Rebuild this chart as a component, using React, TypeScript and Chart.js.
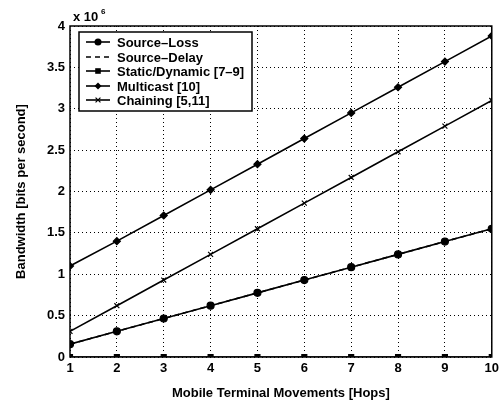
import React, { useEffect, useRef } from "react";
import { Chart, registerables } from "chart.js";

Chart.register(...registerables);

const hops = [1, 2, 3, 4, 5, 6, 7, 8, 9, 10];
const sourceLoss = [0.155, 0.31, 0.465, 0.62, 0.775, 0.93, 1.085, 1.24, 1.395, 1.55];
const sourceDelay = [0.155, 0.31, 0.465, 0.62, 0.775, 0.93, 1.085, 1.24, 1.395, 1.55];
const staticDynamic = [0, 0, 0, 0, 0, 0, 0, 0, 0, 0];
const multicast = [1.1, 1.4, 1.71, 2.02, 2.33, 2.64, 2.95, 3.26, 3.57, 3.88];
const chaining = [0.31, 0.62, 0.93, 1.24, 1.55, 1.86, 2.17, 2.48, 2.79, 3.1];
const yTicks = [0, 0.5, 1, 1.5, 2, 2.5, 3, 3.5, 4];
const yTickLabels = ["0", "0.5", "1", "1.5", "2", "2.5", "3", "3.5", "4"];
const legendLabels = ["Source\u2013Loss", "Source\u2013Delay", "Static/Dynamic [7\u20139]", "Multicast [10]", "Chaining [5,11]"];

const FONT = "'Liberation Sans', Arial, sans-serif";

export default function App() {
  const ref = useRef<HTMLCanvasElement | null>(null);
  useEffect(() => {
    document.body.style.margin = "0";
    const canvas = ref.current!;
    const mk = (label: string, data: number[], style: any, dash: number[] = []) => ({
      label,
      data: hops.map((h, i) => ({ x: h, y: data[i] })),
      borderColor: "#000",
      backgroundColor: "#000",
      borderWidth: 1.6,
      borderDash: dash,
      pointStyle: style,
      pointRadius: style ? 3.5 : 0,
      pointBorderWidth: 1.2,
      pointBorderColor: "#000",
      pointBackgroundColor: "#000",
    });
    const datasets = [
      mk(legendLabels[0], sourceLoss, "circle"),
      mk(legendLabels[1], sourceDelay, false, [5, 4]),
      mk(legendLabels[2], staticDynamic, "rect"),
      mk(legendLabels[3], multicast, "rectRot"),
      mk(legendLabels[4], chaining, "crossRot"),
    ];
    function drawPoint(ctx: CanvasRenderingContext2D, style: string, x: number, y: number) {
      const r = 3.5;
      ctx.beginPath();
      if (style === "circle") {
        ctx.arc(x, y, r, 0, Math.PI * 2);
        ctx.fill();
      } else if (style === "rect") {
        ctx.rect(x - r * 0.8, y - r * 0.8, r * 1.6, r * 1.6);
        ctx.fill();
      } else if (style === "rectRot") {
        ctx.moveTo(x, y - r);
        ctx.lineTo(x + r, y);
        ctx.lineTo(x, y + r);
        ctx.lineTo(x - r, y);
        ctx.closePath();
        ctx.fill();
      } else if (style === "crossRot") {
        ctx.moveTo(x - r * 0.7, y - r * 0.7);
        ctx.lineTo(x + r * 0.7, y + r * 0.7);
        ctx.moveTo(x + r * 0.7, y - r * 0.7);
        ctx.lineTo(x - r * 0.7, y + r * 0.7);
        ctx.stroke();
      }
    }
    const boxPlugin = {
      id: "boxPlugin",
      afterDraw(chart: any) {
        const ctx = chart.ctx;
        const a = chart.chartArea;
        ctx.save();
        ctx.strokeStyle = "#000";
        ctx.lineWidth = 1.5;
        ctx.setLineDash([]);
        ctx.strokeRect(a.left, a.top, a.right - a.left, a.bottom - a.top);
        // exponent label
        ctx.fillStyle = "#000";
        ctx.font = `bold 13px ${FONT}`;
        ctx.textBaseline = "alphabetic";
        ctx.textAlign = "left";
        ctx.fillText("x 10", 73, 21);
        ctx.font = `bold 8px ${FONT}`;
        ctx.fillText("6", 101, 14);
        // legend
        const lx = 79, ly = 32, lw = 173, lh = 79;
        ctx.fillStyle = "#fff";
        ctx.fillRect(lx, ly, lw, lh);
        ctx.strokeStyle = "#000";
        ctx.lineWidth = 1.5;
        ctx.strokeRect(lx, ly, lw, lh);
        const rows = [42, 57, 71, 86, 100];
        chart.data.datasets.forEach((ds: any, i: number) => {
          const y = rows[i];
          ctx.strokeStyle = "#000";
          ctx.lineWidth = 1.6;
          ctx.setLineDash(ds.borderDash || []);
          ctx.beginPath();
          ctx.moveTo(86, y);
          ctx.lineTo(110, y);
          ctx.stroke();
          ctx.setLineDash([]);
          if (ds.pointStyle) {
            ctx.fillStyle = "#000";
            ctx.lineWidth = 1.2;
            drawPoint(ctx, ds.pointStyle, 98, y);
          }
          ctx.fillStyle = "#000";
          ctx.font = `bold 13px ${FONT}`;
          ctx.textBaseline = "middle";
          ctx.fillText(ds.label, 117, y + 1);
        });
        ctx.restore();
      },
    };
    const chart = new Chart(canvas, {
      type: "line",
      data: { datasets: datasets as any },
      plugins: [boxPlugin],
      options: {
        responsive: false,
        animation: false,
        layout: { padding: { left: 0, right: 8, top: 26, bottom: 0 } },
        plugins: { legend: { display: false }, tooltip: { enabled: false } },
        scales: {
          x: {
            type: "linear",
            min: 1,
            max: 10,
            afterBuildTicks: (s: any) => {
              s.ticks = hops.map((v) => ({ value: v }));
            },
            afterFit: (s: any) => {
              s.height = 48;
            },
            grid: { color: "#000", lineWidth: 1, drawTicks: false } as any,
            border: { display: false, dash: [1, 3] },
            ticks: {
              color: "#000",
              padding: 4,
              font: { family: FONT, size: 13, weight: "bold" },
              callback: (v: any) => String(v),
            },
            title: {
              display: true,
              text: "Mobile Terminal Movements [Hops]",
              color: "#000",
              font: { family: FONT, size: 13, weight: "bold" },
              padding: { top: 4, bottom: 4 },
            },
          },
          y: {
            type: "linear",
            min: 0,
            max: 4,
            afterBuildTicks: (s: any) => {
              s.ticks = yTicks.map((v) => ({ value: v }));
            },
            afterFit: (s: any) => {
              s.width = 70;
            },
            grid: { color: "#000", lineWidth: 1, drawTicks: false } as any,
            border: { display: false, dash: [1, 3] },
            ticks: {
              color: "#000",
              padding: 5,
              font: { family: FONT, size: 13, weight: "bold" },
              callback: (v: any) => yTickLabels[yTicks.indexOf(Number(v))] ?? "",
            },
            title: {
              display: true,
              text: "Bandwidth [bits per second]",
              color: "#000",
              font: { family: FONT, size: 13, weight: "bold" },
              padding: { top: 14, bottom: 4 },
            },
          },
        },
      },
    });
    return () => chart.destroy();
  }, []);
  return <canvas ref={ref} width={503} height={405} style={{ display: "block" }} />;
}
